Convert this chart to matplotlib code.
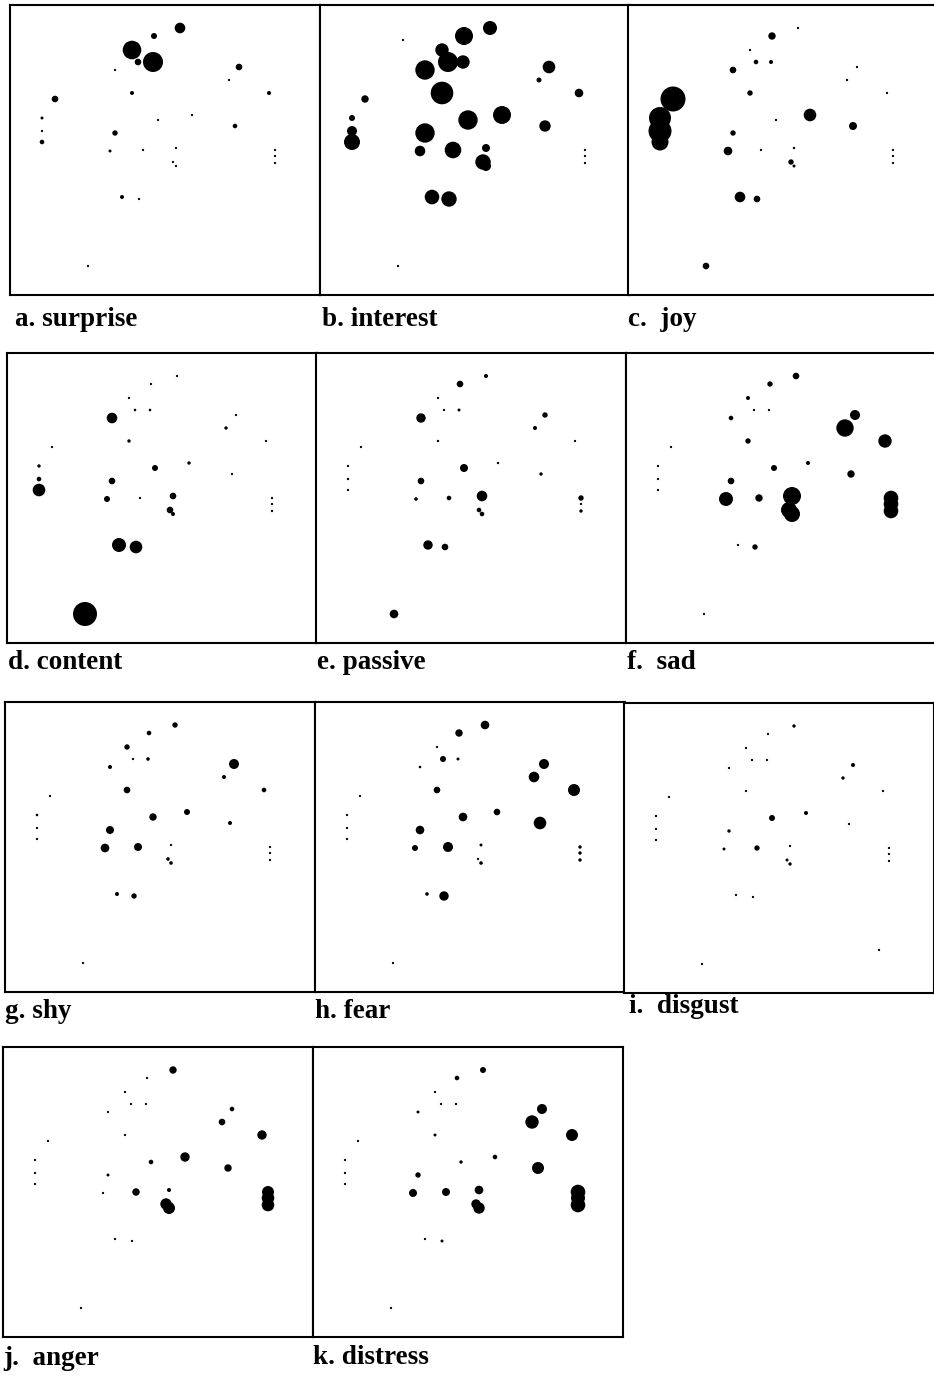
import matplotlib
matplotlib.use("Agg")
import matplotlib.pyplot as plt
import numpy as np

# stimulus configuration (shared by all panels)
dim1 = [170, 144, 122, 128, 143, 229, 105, 219, 259, 122, 45, 32, 182, 148, 225, 32,
        105, 32, 100, 133, 166, 265, 265, 265, 163, 166, 112, 129, 78, 83, 255]
dim2 = [23, 31, 45, 57, 57, 62, 65, 75, 88, 88, 94, 113, 110, 115, 121, 126,
        128, 137, 146, 145, 143, 145, 151, 158, 157, 161, 192, 194, 261, 35, 247]

# circle radius per stimulus for each emotion term
surprise = [5.3, 3, 9.3, 3.3, 10, 3.3, 0.8, 1, 2, 2, 3.3, 1.5, 1, 1, 2.3, 1, 2.7, 2.3,
            1.5, 1, 1, 1, 1, 1, 1, 1, 2, 1, 0.7, 0, 0]
interest = [7, 9, 6.7, 10, 6.7, 6.3, 9.7, 2.5, 4.3, 11.3, 3.7, 3, 9, 9.7, 5.7, 5, 9.7, 8,
            5.3, 8.3, 4, 1, 1, 1, 7.7, 5, 7.3, 7.7, 1, 1, 0]
joy = [1, 3.7, 1, 2.3, 2, 1, 3.3, 1.2, 1, 2.7, 12.5, 11, 6.3, 1, 4, 11.5, 2.7, 8.5,
       4.3, 1, 1.2, 1, 1, 1, 2.7, 1.5, 5.3, 3.3, 3.3, 0, 0]
content = [0.8, 0.8, 1, 1.3, 1.3, 0.8, 5.3, 1.7, 0.8, 1.7, 0.8, 1.7, 1.7, 3, 0.8, 2.3,
           3.3, 6.3, 3, 0.8, 3.3, 0.8, 0.8, 1.2, 3.3, 2, 7, 6.3, 12, 0, 0]
passive = [2, 3.3, 1, 0.8, 1.5, 2.7, 4.7, 2, 1, 1.2, 0.8, 1, 1.2, 4, 1.7, 1.2, 3.3, 1,
           1.8, 2.3, 5.3, 2.7, 0.8, 1.7, 2.3, 2.3, 4.7, 3.3, 4.3, 0, 0]
sad = [3.3, 2.7, 2, 0.8, 1, 5, 2.3, 8.7, 6.7, 2.7, 0.8, 0.8, 2, 3, 3.7, 1, 3.3, 1,
       7, 3.7, 9, 7.3, 7.3, 7.3, 8, 8, 1, 2.7, 0.8, 0, 0]
shy = [2.7, 2.3, 2.7, 0.8, 1.8, 5, 2, 2, 2.3, 3.3, 0.7, 1.3, 3, 3.7, 2, 0.8, 4, 1,
       4.3, 4, 1, 0.8, 0.8, 0.8, 1.8, 1.8, 2, 2.7, 0.7, 0, 0]
fear = [4.3, 3.7, 0.8, 3, 1.5, 5, 1.3, 5.3, 6, 3.3, 0.6, 0.8, 3.3, 4.3, 6.3, 0.8, 4.3,
        0.8, 3, 5, 1.5, 1.7, 1.7, 1.7, 0.8, 1.8, 1.8, 4.7, 0.7, 0, 0]
disgust = [1.7, 1, 0.7, 1, 0.8, 2, 1, 1.7, 1, 1, 0.8, 0.8, 2, 3, 0.8, 0.8, 1.7, 0.8,
           1.5, 2.7, 0.8, 0.8, 0.8, 0.8, 1.5, 1.7, 0.8, 0.7, 0.8, 0, 0.7]
anger = [3.7, 0.8, 1, 0.8, 0.8, 2.3, 0.9, 3.3, 4.7, 0.8, 0.8, 0.8, 4.7, 2.3, 3.7, 0.8,
         1.5, 0.8, 0.8, 3.7, 2, 6, 6.3, 6.3, 5.7, 6, 0.8, 0.8, 0.7, 0, 0]
distress = [3, 2.3, 0.8, 0.8, 0.7, 5, 1.5, 6.7, 6, 1.5, 0.7, 0.8, 2.3, 1.7, 6, 0.7,
            2.7, 0.7, 4, 4, 4.3, 7.3, 7, 7.3, 4.7, 5.7, 0.8, 1.5, 0.7, 0, 0]

titles = ['a. surprise', 'b. interest', 'c.  joy', 'd. content', 'e. passive', 'f.  sad',
          'g. shy', 'h. fear', 'i.  disgust', 'j.  anger', 'k. distress']
series = [surprise, interest, joy, content, passive, sad,
          shy, fear, disgust, anger, distress]

W, H = 934, 1376
PW, PH = 310, 290
# panel frame top-left corners (px) and label baseline (px)
frames = [(10, 5), (320, 5), (628, 5),
          (7, 353), (316, 353), (626, 353),
          (5, 702), (315, 702), (624, 703),
          (3, 1047), (313, 1047)]
label_pos = [(15, 326), (322, 326), (628, 326),
             (8, 669), (317, 669), (627, 669),
             (5, 1018), (315, 1018), (629, 1013),
             (3, 1365), (313, 1364)]

fig = plt.figure(figsize=(W / 100, H / 100), dpi=100)

for (fx, fy), (lx, ly), title, r in zip(frames, label_pos, titles, series):
    ax = fig.add_axes([fx / W, 1 - (fy + PH) / H, PW / W, PH / H])
    r = np.array(r, dtype=float)
    # printed dots never get smaller than about a pixel
    r = np.where(r > 0, np.maximum(r, 1.15), 0)
    # radius in px -> marker area in pt^2
    s = (2 * r * 72 / 100) ** 2
    ax.scatter(dim1, dim2, s=s, c='black', linewidths=0)
    ax.set_xlim(0, PW)
    ax.set_ylim(PH, 0)
    ax.set_xticks([])
    ax.set_yticks([])
    for sp in ax.spines.values():
        sp.set_linewidth(1.5)
        sp.set_color('black')
    fig.text(lx / W, 1 - ly / H, title, fontsize=19.5, fontweight='bold',
             family='Liberation Serif', ha='left', va='baseline')

fig.savefig('out.png', dpi=100)
